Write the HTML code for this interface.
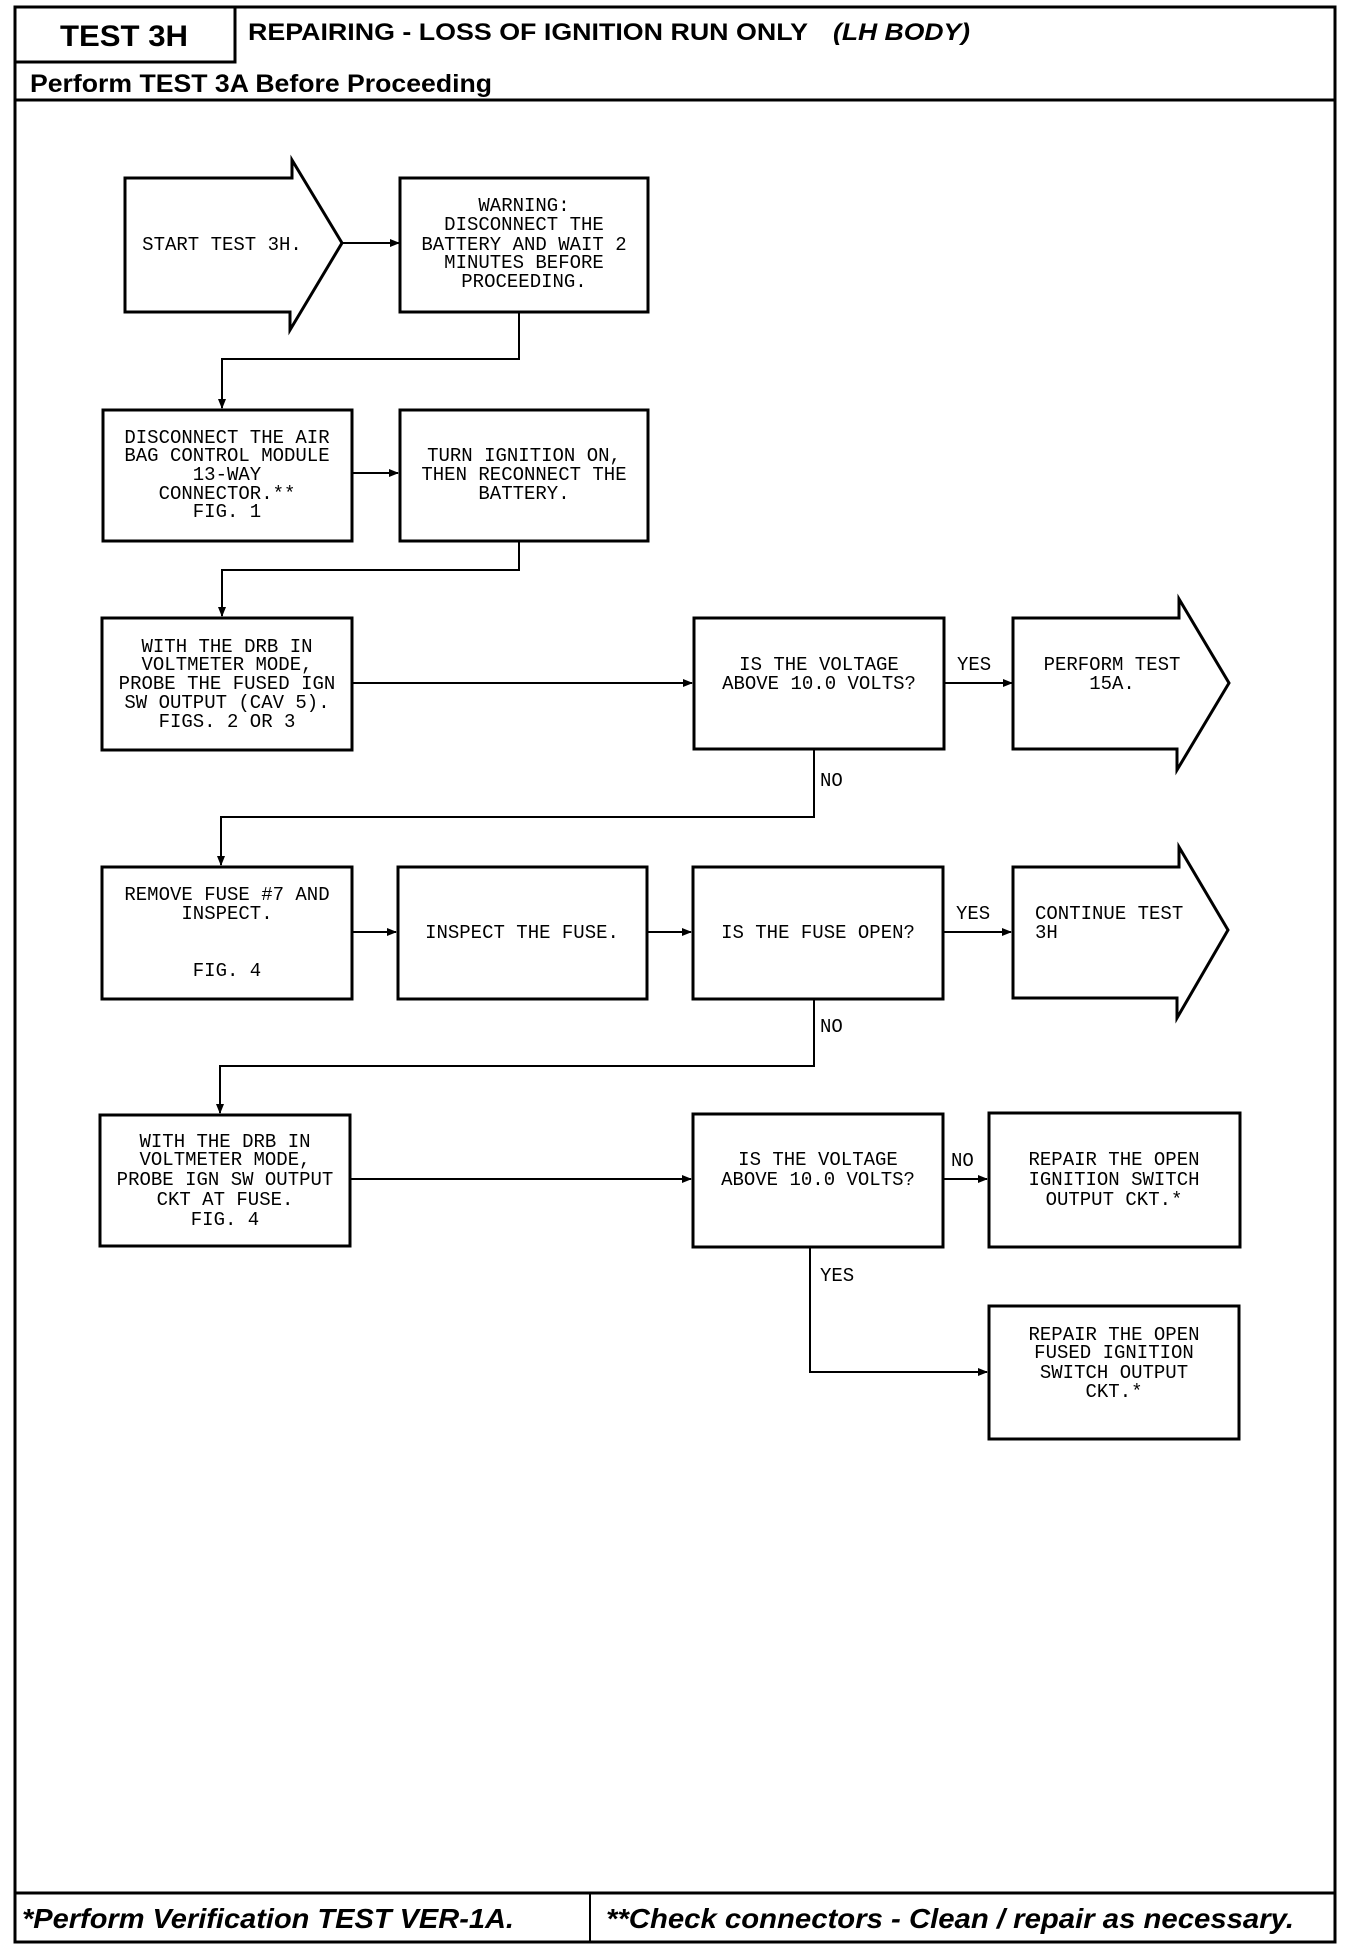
<!DOCTYPE html>
<html><head><meta charset="utf-8"><style>
html,body{margin:0;padding:0;background:#fff;}
svg{display:block;}
.t{font-family:"Liberation Mono",monospace;font-size:19px;fill:#000;text-anchor:middle;}
.l{font-family:"Liberation Mono",monospace;font-size:19px;fill:#000;}
.b{fill:#fff;stroke:#000;stroke-width:3;}
.c{fill:none;stroke:#000;stroke-width:2;}
</style></head><body>
<svg width="1360" height="1950" viewBox="0 0 1360 1950" xmlns="http://www.w3.org/2000/svg">
<defs><marker id="a" markerWidth="10" markerHeight="10" refX="9" refY="5" orient="auto" markerUnits="userSpaceOnUse"><path d="M0,1 L10,5 L0,9 z" fill="#000"/></marker></defs>
<!-- frame -->
<rect x="15" y="7" width="1320" height="1935" fill="none" stroke="#000" stroke-width="3"/>
<rect x="15" y="7" width="220" height="55" fill="none" stroke="#000" stroke-width="3"/>
<line x1="15" y1="100" x2="1335" y2="100" stroke="#000" stroke-width="3"/>
<line x1="15" y1="1893" x2="1335" y2="1893" stroke="#000" stroke-width="3"/>
<line x1="590" y1="1893" x2="590" y2="1942" stroke="#000" stroke-width="2"/>
<text x="60" y="46" textLength="128" lengthAdjust="spacingAndGlyphs" style="font-family:'Liberation Sans',sans-serif;font-weight:bold;font-size:30px;">TEST 3H</text>
<text x="248" y="40" textLength="560" lengthAdjust="spacingAndGlyphs" style="font-family:'Liberation Sans',sans-serif;font-weight:bold;font-size:24px;">REPAIRING - LOSS OF IGNITION RUN ONLY</text>
<text x="833" y="40" textLength="137" lengthAdjust="spacingAndGlyphs" style="font-family:'Liberation Sans',sans-serif;font-weight:bold;font-style:italic;font-size:24px;">(LH BODY)</text>
<text x="30" y="92" textLength="462" lengthAdjust="spacingAndGlyphs" style="font-family:'Liberation Sans',sans-serif;font-weight:bold;font-size:25px;">Perform TEST 3A Before Proceeding</text>
<text x="22" y="1928" textLength="492" lengthAdjust="spacingAndGlyphs" style="font-family:'Liberation Sans',sans-serif;font-weight:bold;font-style:italic;font-size:28px;">*Perform Verification TEST VER-1A.</text>
<text x="606" y="1928" textLength="688" lengthAdjust="spacingAndGlyphs" style="font-family:'Liberation Sans',sans-serif;font-weight:bold;font-style:italic;font-size:28px;">**Check connectors - Clean / repair as necessary.</text>

<!-- row1 -->
<path class="b" d="M125,178 L292,178 L292,160 L342,243 L290,330 L290,312 L125,312 Z"/>
<text class="t" x="222" y="250">START TEST 3H.</text>
<line class="c" x1="342" y1="243" x2="399" y2="243" marker-end="url(#a)"/>
<rect class="b" x="400" y="178" width="248" height="134"/>
<text class="t" x="524" y="211">WARNING:</text>
<text class="t" x="524" y="230">DISCONNECT THE</text>
<text class="t" x="524" y="250">BATTERY AND WAIT 2</text>
<text class="t" x="524" y="268">MINUTES BEFORE</text>
<text class="t" x="524" y="287">PROCEEDING.</text>
<polyline class="c" points="519,312 519,359 222,359 222,408" marker-end="url(#a)"/>

<!-- row2 -->
<rect class="b" x="103" y="410" width="249" height="131"/>
<text class="t" x="227" y="443">DISCONNECT THE AIR</text>
<text class="t" x="227" y="461">BAG CONTROL MODULE</text>
<text class="t" x="227" y="480">13-WAY</text>
<text class="t" x="227" y="499">CONNECTOR.**</text>
<text class="t" x="227" y="517">FIG. 1</text>
<line class="c" x1="352" y1="473" x2="398" y2="473" marker-end="url(#a)"/>
<rect class="b" x="400" y="410" width="248" height="131"/>
<text class="t" x="524" y="461">TURN IGNITION ON,</text>
<text class="t" x="524" y="480">THEN RECONNECT THE</text>
<text class="t" x="524" y="499">BATTERY.</text>
<polyline class="c" points="519,541 519,570 222,570 222,616" marker-end="url(#a)"/>

<!-- row3 -->
<rect class="b" x="102" y="618" width="250" height="132"/>
<text class="t" x="227" y="652">WITH THE DRB IN</text>
<text class="t" x="227" y="670">VOLTMETER MODE,</text>
<text class="t" x="227" y="689">PROBE THE FUSED IGN</text>
<text class="t" x="227" y="708">SW OUTPUT (CAV 5).</text>
<text class="t" x="227" y="727">FIGS. 2 OR 3</text>
<line class="c" x1="352" y1="683" x2="692" y2="683" marker-end="url(#a)"/>
<rect class="b" x="694" y="618" width="250" height="131"/>
<text class="t" x="819" y="670">IS THE VOLTAGE</text>
<text class="t" x="819" y="689">ABOVE 10.0 VOLTS?</text>
<line class="c" x1="944" y1="683" x2="1012" y2="683" marker-end="url(#a)"/>
<text class="l" x="957" y="670">YES</text>
<path class="b" d="M1013,618 L1179,618 L1179,599 L1229,683 L1177,770 L1177,749 L1013,749 Z"/>
<text class="t" x="1112" y="670">PERFORM TEST</text>
<text class="t" x="1112" y="689">15A.</text>
<polyline class="c" points="814,749 814,817 221,817 221,865" marker-end="url(#a)"/>
<text class="l" x="820" y="786">NO</text>

<!-- row4 -->
<rect class="b" x="102" y="867" width="250" height="132"/>
<text class="t" x="227" y="900">REMOVE FUSE #7 AND</text>
<text class="t" x="227" y="919">INSPECT.</text>
<text class="t" x="227" y="976">FIG. 4</text>
<line class="c" x1="352" y1="932" x2="396" y2="932" marker-end="url(#a)"/>
<rect class="b" x="398" y="867" width="249" height="132"/>
<text class="t" x="522" y="938">INSPECT THE FUSE.</text>
<line class="c" x1="647" y1="932" x2="691" y2="932" marker-end="url(#a)"/>
<rect class="b" x="693" y="867" width="250" height="132"/>
<text class="t" x="818" y="938">IS THE FUSE OPEN?</text>
<line class="c" x1="943" y1="932" x2="1011" y2="932" marker-end="url(#a)"/>
<text class="l" x="956" y="919">YES</text>
<path class="b" d="M1013,867 L1179,867 L1179,847 L1228,930 L1177,1018 L1177,998 L1013,998 Z"/>
<text class="l" x="1035" y="919">CONTINUE TEST</text>
<text class="l" x="1035" y="938">3H</text>
<polyline class="c" points="814,999 814,1066 220,1066 220,1113" marker-end="url(#a)"/>
<text class="l" x="820" y="1032">NO</text>

<!-- row5 -->
<rect class="b" x="100" y="1115" width="250" height="131"/>
<text class="t" x="225" y="1147">WITH THE DRB IN</text>
<text class="t" x="225" y="1165">VOLTMETER MODE,</text>
<text class="t" x="225" y="1185">PROBE IGN SW OUTPUT</text>
<text class="t" x="225" y="1205">CKT AT FUSE.</text>
<text class="t" x="225" y="1225">FIG. 4</text>
<line class="c" x1="350" y1="1179" x2="691" y2="1179" marker-end="url(#a)"/>
<rect class="b" x="693" y="1114" width="250" height="133"/>
<text class="t" x="818" y="1165">IS THE VOLTAGE</text>
<text class="t" x="818" y="1185">ABOVE 10.0 VOLTS?</text>
<line class="c" x1="943" y1="1179" x2="987" y2="1179" marker-end="url(#a)"/>
<text class="l" x="951" y="1166">NO</text>
<rect class="b" x="989" y="1113" width="251" height="134"/>
<text class="t" x="1114" y="1165">REPAIR THE OPEN</text>
<text class="t" x="1114" y="1185">IGNITION SWITCH</text>
<text class="t" x="1114" y="1205">OUTPUT CKT.*</text>
<polyline class="c" points="810,1247 810,1372 987,1372" marker-end="url(#a)"/>
<text class="l" x="820" y="1281">YES</text>
<rect class="b" x="989" y="1306" width="250" height="133"/>
<text class="t" x="1114" y="1340">REPAIR THE OPEN</text>
<text class="t" x="1114" y="1358">FUSED IGNITION</text>
<text class="t" x="1114" y="1378">SWITCH OUTPUT</text>
<text class="t" x="1114" y="1397">CKT.*</text>
</svg>
</body></html>
